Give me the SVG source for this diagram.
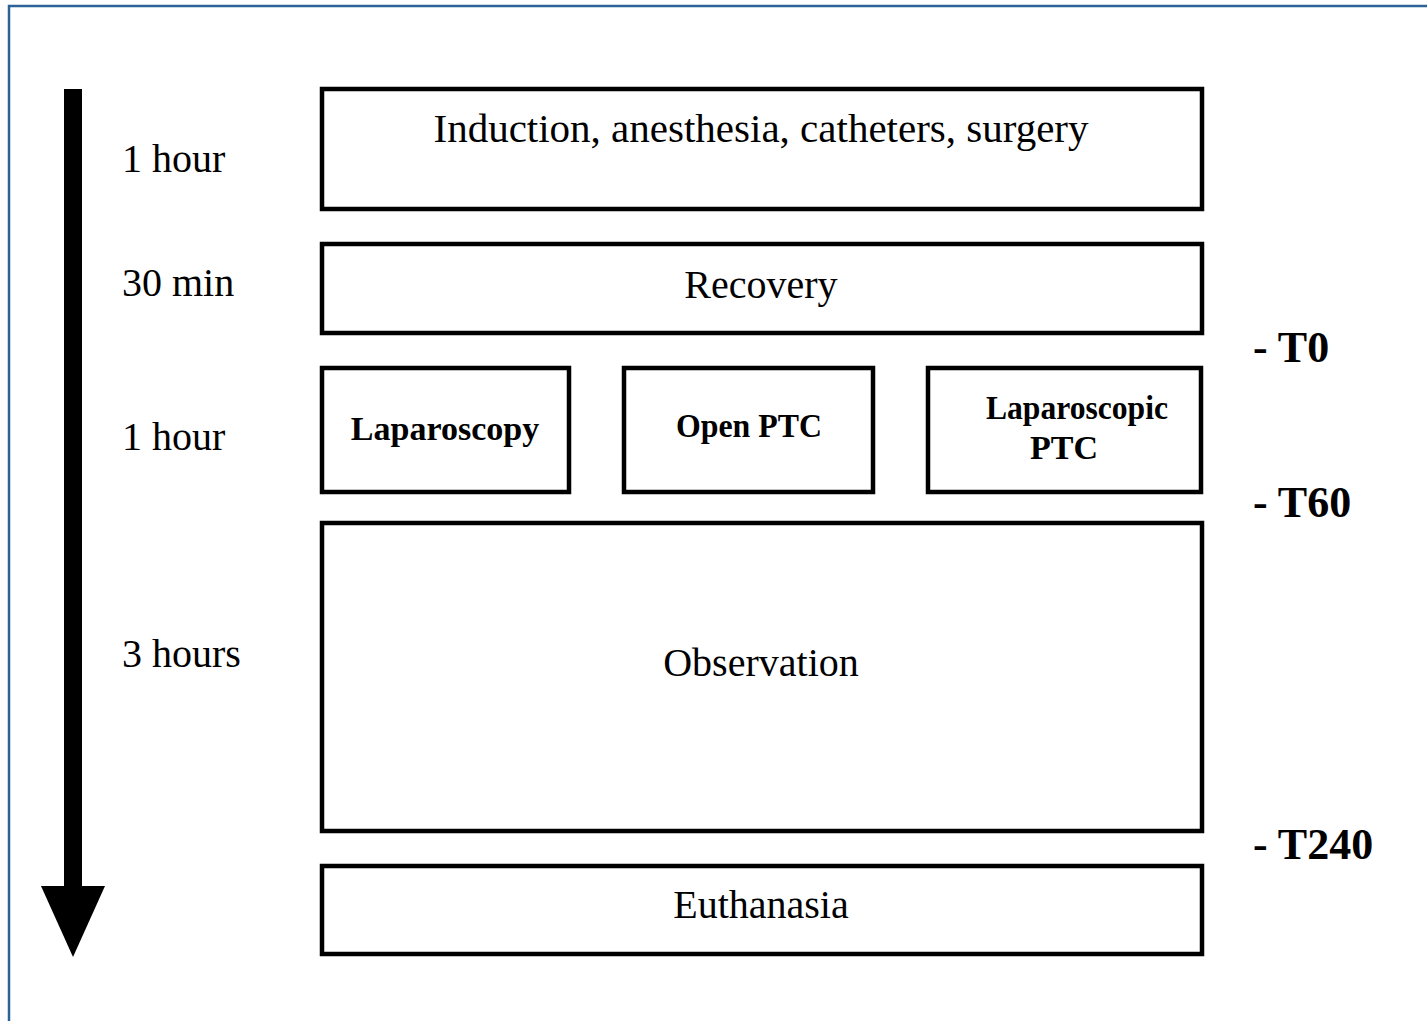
<svg xmlns="http://www.w3.org/2000/svg" width="1427" height="1021" viewBox="0 0 1427 1021">
<style>
.box{fill:#fff;stroke:#000;stroke-width:4.5}
.t{font-family:"Liberation Serif","Times New Roman",serif;fill:#000}
.reg{font-size:40px}
.b{font-size:34px;font-weight:bold}
.tl{font-size:44px;font-weight:bold}
.mid{text-anchor:middle}
</style>
<rect width="1427" height="1021" fill="#fff"/>
<path d="M9,1021 V6 H1427" fill="none" stroke="#2b6399" stroke-width="2.5"/>
<g id="connectors">
<rect x="64" y="89" width="18" height="800" fill="#000"/>
<polygon points="41,886 105,886 73,957" fill="#000"/>
</g>
<g id="time-labels" class="t reg">
<text x="122" y="172">1 hour</text>
<text x="122" y="296">30 min</text>
<text x="122" y="450">1 hour</text>
<text x="122" y="667">3 hours</text>
</g>
<g id="induction"><rect class="box" x="322" y="89" width="880" height="120"/><text class="t reg mid" x="761" y="142" style="font-size:41px">Induction, anesthesia, catheters, surgery</text></g>
<g id="recovery"><rect class="box" x="322" y="244" width="880" height="89"/><text class="t reg mid" x="761" y="298">Recovery</text></g>
<g id="laparoscopy"><rect class="box" x="322" y="368" width="247" height="124"/><text class="t b mid" x="445" y="440">Laparoscopy</text></g>
<g id="open-ptc"><rect class="box" x="624" y="368" width="249" height="124"/><text class="t b mid" x="749" y="437" textLength="146" lengthAdjust="spacingAndGlyphs">Open PTC</text></g>
<g id="laparoscopic-ptc"><rect class="box" x="928" y="368" width="273" height="124"/><text class="t b mid" x="1077" y="419" textLength="182" lengthAdjust="spacingAndGlyphs">Laparoscopic</text><text class="t b mid" x="1064" y="459">PTC</text></g>
<g id="observation"><rect class="box" x="322" y="523" width="880" height="308"/><text class="t reg mid" x="761" y="676">Observation</text></g>
<g id="euthanasia"><rect class="box" x="322" y="866" width="880" height="88"/><text class="t reg mid" x="761" y="918">Euthanasia</text></g>
<g id="markers" class="t tl">
<text x="1253" y="362">- T0</text>
<text x="1253" y="517">- T60</text>
<text x="1253" y="859">- T240</text>
</g>
</svg>
